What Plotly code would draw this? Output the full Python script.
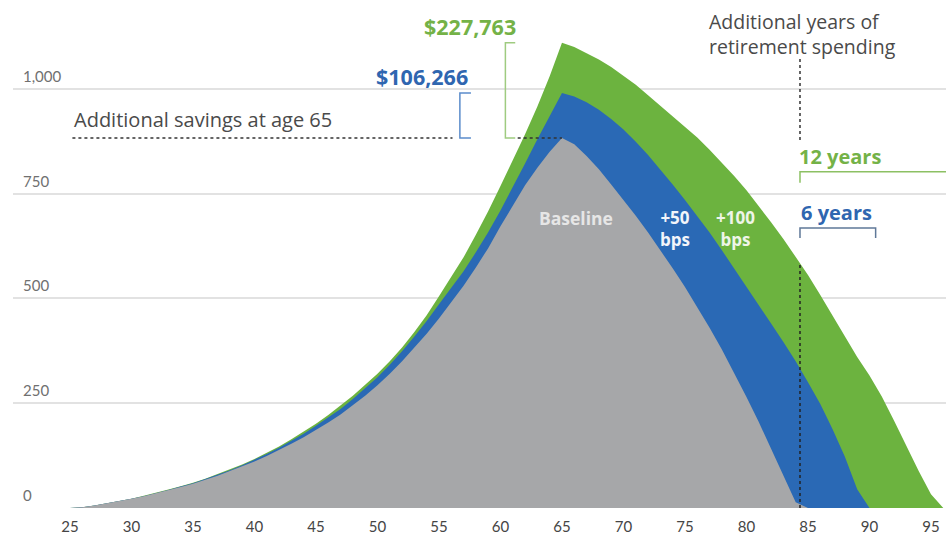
import plotly.graph_objects as go

# ---------------- data (values in $ thousands) ----------------
ages = list(range(25, 97))

baseline = [0, 2, 6, 11, 16, 22, 28, 35, 42, 50,          # 25-34
            58, 67, 77, 88, 99, 111, 124, 138, 153, 169,  # 35-44
            186, 204, 223, 245, 268, 293, 320, 350, 382, 416,  # 45-54
            452, 490, 530, 574, 620, 672, 722, 770, 812, 850,  # 55-64
            883, 868, 840, 808, 772, 735, 697, 657, 615, 572,  # 65-74
            527, 480, 430, 378, 323, 265, 205, 142, 78, 14,    # 75-84
            0, 0, 0, 0, 0, 0, 0, 0, 0, 0, 0, 0]                # 85-96

plus50 = [0, 2, 6, 11, 16, 22, 28, 35, 43, 51,
          59, 69, 79, 90, 102, 115, 129, 144, 160, 177,
          196, 215, 236, 260, 285, 312, 342, 374, 409, 446,
          486, 525, 565, 610, 658, 710, 765, 822, 880, 935,
          990, 982, 968, 950, 928, 903, 874, 842, 808, 772,
          735, 697, 657, 615, 572, 528, 484, 440, 396, 350,
          300, 248, 188, 122, 45, 0, 0, 0, 0, 0, 0, 0]

plus100 = [0, 2, 6, 11, 16, 22, 29, 36, 44, 52,
           60, 70, 81, 92, 104, 117, 131, 147, 164, 182,
           201, 222, 244, 268, 294, 320, 350, 383, 420, 460,
           505, 550, 598, 652, 708, 768, 828, 892, 958, 1030,
           1110, 1100, 1085, 1070, 1052, 1030, 1010, 985, 960, 935,
           910, 884, 855, 824, 792, 758, 721, 682, 642, 600,
           556, 508, 458, 408, 360, 316, 266, 208, 146, 88, 33, 0]

x_ticks = [25, 30, 35, 40, 45, 50, 55, 60, 65, 70, 75, 80, 85, 90, 95]
y_ticks = [0, 250, 500, 750, 1000]
y_tick_labels = ["0", "250", "500", "750", "1,000"]

gain50_label = "$106,266"
gain100_label = "$227,763"

GRAY = "#a6a7a9"
BLUE = "#2a69b5"
GREEN = "#6cb33f"
FONT = "'Open Sans', Lato, sans-serif"
TICKFONT = "Lato, 'Open Sans', sans-serif"

fig = go.Figure()
for vals, col in [(plus100, GREEN), (plus50, BLUE), (baseline, GRAY)]:
    fig.add_trace(go.Scatter(x=ages, y=vals, mode="lines", fill="tozeroy",
                             fillcolor=col, line=dict(width=0, color=col),
                             hoverinfo="skip", showlegend=False))

peak_base = max(baseline)
peak_50 = max(plus50)
peak_100 = max(plus100)
deplete_age = 84.35

shapes = []
dot = dict(color="#333333", width=1.5, dash="dot")
# horizontal dotted lines at baseline peak
shapes.append(dict(type="line", xref="x", yref="y", x0=25.2, x1=56.1,
                   y0=peak_base, y1=peak_base, line=dot))
shapes.append(dict(type="line", xref="x", yref="y", x0=61.4, x1=65.0,
                   y0=peak_base, y1=peak_base, line=dot))
# blue bracket
shapes.append(dict(type="path", xref="x", yref="y",
                   path=f"M 57.6 {peak_50} L 56.7 {peak_50} L 56.7 {peak_base} L 57.6 {peak_base}",
                   line=dict(color="#5b8ccb", width=1.5)))
# green bracket
shapes.append(dict(type="path", xref="x", yref="y",
                   path=f"M 61.2 {peak_100} L 60.4 {peak_100} L 60.4 {peak_base} L 61.2 {peak_base}",
                   line=dict(color="#9fcb80", width=1.5)))
# vertical dotted lines at depletion age
shapes.append(dict(type="line", xref="x", yref="y", x0=deplete_age, x1=deplete_age,
                   y0=878, y1=1074, line=dot))
shapes.append(dict(type="line", xref="x", yref="y", x0=deplete_age, x1=deplete_age,
                   y0=0, y1=580, line=dict(color="#222222", width=1.5, dash="dot")))
# 12 years bracket
shapes.append(dict(type="path", xref="x", yref="y",
                   path=f"M {deplete_age} 776 L {deplete_age} 802 L 96.3 802",
                   line=dict(color="#8cc063", width=1.5)))
# 6 years bracket
shapes.append(dict(type="path", xref="x", yref="y",
                   path=f"M {deplete_age} 644 L {deplete_age} 668 L 90.5 668 L 90.5 644",
                   line=dict(color="#5f7898", width=1.5)))

ann = []
for v, t in zip(y_ticks, y_tick_labels):
    ann.append(dict(xref="paper", yref="y", x=0.009, y=v, text=t, showarrow=False,
                    xanchor="left", yanchor="bottom", yshift=2,
                    font=dict(family=TICKFONT, size=15, color="#707070")))

ann += [
    dict(x=57.5, y=1148, text=f"<b>{gain100_label}</b>", showarrow=False,
         font=dict(family=FONT, size=21.5, color="#74b247")),
    dict(x=53.6, y=1029, text=f"<b>{gain50_label}</b>", showarrow=False,
         font=dict(family=FONT, size=21.5, color="#2f66b0")),
    dict(x=25.15, y=926, text="Additional savings at age 65", showarrow=False,
         xanchor="left", font=dict(family=FONT, size=20, color="#4a4a4a")),
    dict(x=76.8, y=1132, text="Additional years of<br>retirement spending", showarrow=False,
         xanchor="left", align="left", font=dict(family=FONT, size=19.5, color="#4a4a4a")),
    dict(x=84.1, y=838, text="<b>12 years</b>", showarrow=False, xanchor="left",
         font=dict(family=FONT, size=20, color="#74b247")),
    dict(x=84.3, y=706, text="<b>6 years</b>", showarrow=False, xanchor="left",
         font=dict(family=FONT, size=20, color="#2f66b0")),
    dict(x=66.1, y=692, text="<b>Baseline</b>", showarrow=False,
         font=dict(family=FONT, size=17.5, color="#e6e6e6")),
    dict(x=74.2, y=666, text="<b>+50<br>bps</b>", showarrow=False,
         font=dict(family=FONT, size=17, color="#f2f5fa")),
    dict(x=79.1, y=666, text="<b>+100<br>bps</b>", showarrow=False,
         font=dict(family=FONT, size=17, color="#eef5e8")),
]

fig.update_layout(
    width=946, height=541,
    margin=dict(l=13, r=0, t=0, b=33),
    paper_bgcolor="white", plot_bgcolor="white",
    shapes=shapes, annotations=ann,
    xaxis=dict(range=[20.37, 96.22], tickvals=x_ticks, ticks="", showgrid=False,
               zeroline=False, showline=False, ticklabelstandoff=8,
               tickfont=dict(family=TICKFONT, size=15, color="#454545")),
    yaxis=dict(range=[0, 1212], tickvals=y_ticks, showticklabels=False,
               showgrid=True, gridcolor="#e2e2e2", gridwidth=1.5,
               zeroline=False, showline=False),
)

fig.write_html("out.html", config={"displayModeBar": False},
               post_script="document.body.style.margin='0px';")
